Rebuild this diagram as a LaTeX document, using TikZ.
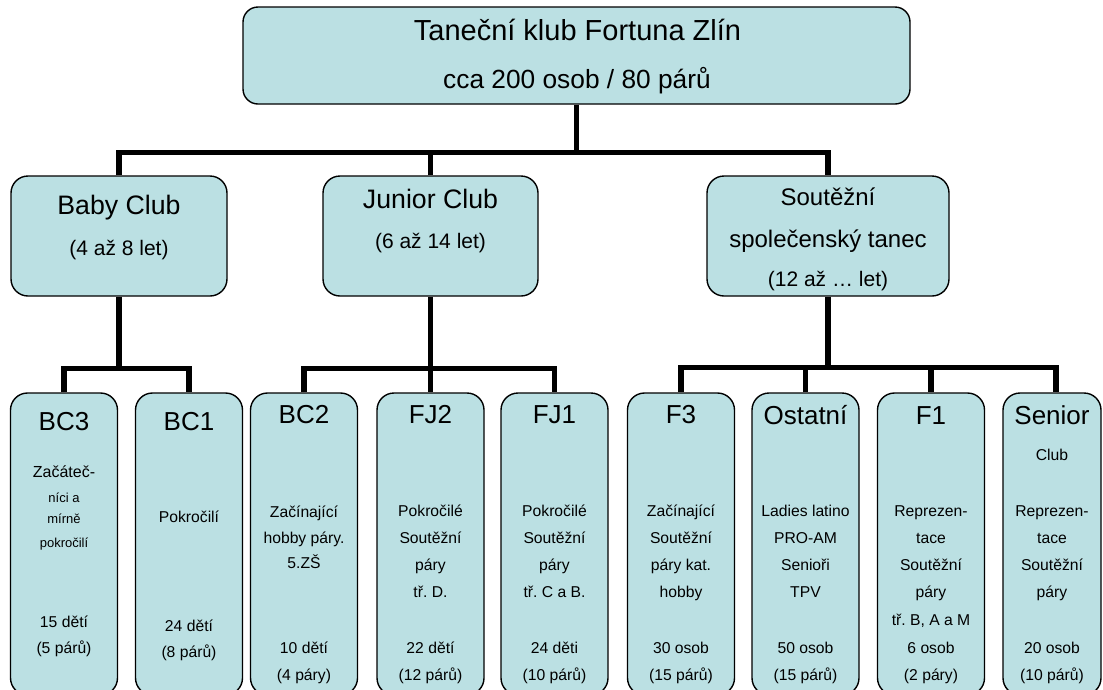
\documentclass[tikz,border=0pt]{standalone}
\usepackage{fontspec}
\setmainfont{Liberation Sans}
\frenchspacing
\definecolor{unitfill}{HTML}{BBE0E3}
\tikzset{
  unit/.style={draw, line width=1.4pt, fill=unitfill, rounded corners=17pt, inner sep=0pt},
  leaf/.style={unit, minimum width=107pt, minimum height=302pt},
  link/.style={line width=5.5pt},
  head/.style={anchor=base, font=\fontsize{26}{30}\selectfont},
  age/.style={anchor=base, font=\fontsize{21}{25}\selectfont},
  txt/.style={anchor=base, font=\fontsize{15.7}{18}\selectfont},
  small/.style={anchor=base, font=\fontsize{13}{15}\selectfont},
}
\begin{document}
\begin{tikzpicture}[x=1pt,y=-1pt]
\useasboundingbox (0,0) rectangle (1103,689);
% club
\node[unit, rounded corners=15pt, minimum width=667pt, minimum height=97pt] (club) at (576.5,55.5) {};
\node[anchor=base, font=\fontsize{29}{34}\selectfont] (clubname) at (577.5,40) {Taneční klub Fortuna Zlín};
\node[anchor=base, font=\fontsize{26.3}{30}\selectfont] (clubsize) at (577,88) {cca 200 osob / 80 párů};

% sections
\node[unit, minimum width=216pt, minimum height=120pt] (baby) at (119,236) {};
\node[head, font=\fontsize{26.7}{30}\selectfont] (babyname) at (119,214) {Baby Club};
\node[age] (babyage) at (119,255) {(4 až 8 let)};
\node[unit, minimum width=215pt, minimum height=120pt] (junior) at (430.5,236) {};
\node[head, font=\fontsize{26.7}{30}\selectfont] (juniorname) at (430.5,208) {Junior Club};
\node[age] (juniorage) at (430.5,248) {(6 až 14 let)};
\node[unit, minimum width=242pt, minimum height=120pt] (sport) at (828,236) {};
\node[head, font=\fontsize{24}{28}\selectfont] (sportname) at (828,205) {Soutěžní};
\node[head, font=\fontsize{24}{28}\selectfont] (sportkind) at (828,247) {společenský tanec};
\node[age] (sportage) at (828,286) {(12 až … let)};

% groups
\node[leaf] (bc3) at (64,544) {};
\node[leaf] (bc1) at (189,544) {};
\node[leaf] (bc2) at (304,544) {};
\node[leaf] (fj2) at (430.5,544) {};
\node[leaf] (fj1) at (554.5,544) {};
\node[leaf] (f3) at (681,544) {};
\node[leaf] (ostatni) at (805.5,544) {};
\node[leaf] (f1) at (931,544) {};
\node[leaf, minimum width=98pt] (senior) at (1052,544) {};

\node[head] (bc3name) at (64,430) {BC3};
\node[txt, font=\fontsize{16}{18}\selectfont] (bc3-0) at (64,477) {Začáteč-};
\foreach \y/\t [count=\i] in {502/{níci a},523/{mírně},547/{pokročilí}}
  \node[small] (bc3-\i) at (64,\y) {\t};
\foreach \y/\t [count=\i] in {627/{15 dětí},653/{(5 párů)}}
  \node[txt] (bc3-n\i) at (64,\y) {\t};

\node[head] (bc1name) at (189,430) {BC1};
\foreach \y/\t [count=\i] in {522/{Pokročilí},631/{24 dětí},657/{(8 párů)}}
  \node[txt] (bc1-\i) at (189,\y) {\t};

\node[head] (bc2name) at (304,423) {BC2};
\foreach \y/\t [count=\i] in {517/{Začínající},543/{hobby páry.},568/{5.ZŠ},653/{10 dětí},680/{(4 páry)}}
  \node[txt] (bc2-\i) at (304,\y) {\t};

\node[head] (fj2name) at (430.5,423) {FJ2};
\foreach \y/\t [count=\i] in {516/{Pokročilé},543/{Soutěžní},570/{páry},597/{tř. D.},653/{22 dětí},680/{(12 párů)}}
  \node[txt] (fj2-\i) at (430.5,\y) {\t};

\node[head] (fj1name) at (554.5,423) {FJ1};
\foreach \y/\t [count=\i] in {516/{Pokročilé},543/{Soutěžní},570/{páry},597/{tř. C a B.},653/{24 děti},680/{(10 párů)}}
  \node[txt] (fj1-\i) at (554.5,\y) {\t};

\node[head] (f3name) at (681,423) {F3};
\foreach \y/\t [count=\i] in {516/{Začínající},543/{Soutěžní},570/{páry kat.},597/{hobby},653/{30 osob},680/{(15 párů)}}
  \node[txt] (f3-\i) at (681,\y) {\t};

\node[head] (ostatniname) at (805.5,424) {Ostatní};
\foreach \y/\t [count=\i] in {516/{Ladies latino},543/{PRO-AM},570/{Senioři},597/{TPV},653/{50 osob},680/{(15 párů)}}
  \node[txt] (ostatni-\i) at (805.5,\y) {\t};

\node[head] (f1name) at (931,424) {F1};
\foreach \y/\t [count=\i] in {516/{Reprezen-},543/{tace},570/{Soutěžní},597/{páry},625/{tř. B, A a M},653/{6 osob},680/{(2 páry)}}
  \node[txt] (f1-\i) at (931,\y) {\t};

\node[head] (seniorname) at (1052,424) {Senior};
\foreach \y/\t [count=\i] in {460/{Club},516/{Reprezen-},543/{tace},570/{Soutěžní},597/{páry},653/{20 osob},680/{(10 párů)}}
  \node[txt] (senior-\i) at (1052,\y) {\t};

% links
\draw[link] (club.south) -- ++(0,48) coordinate (hub);
\draw[link] (baby.north) |- (hub) -| (sport.north);
\draw[link] (junior.north) -- (junior.north |- hub);

\draw[link] (baby.south) -- ++(0,72) coordinate (babyhub);
\draw[link] (bc3.north) |- (babyhub) -| (bc1.north);

\draw[link] (junior.south) -- (junior.south |- fj2.north);
\path (junior.south) ++(0,72) coordinate (juniorhub);
\draw[link] (bc2.north) |- (juniorhub) -| (fj1.north);

\draw[link] (sport.south) -- ++(0,71) coordinate (sporthub);
\draw[link] (f3.north) |- (sporthub) -| ([xshift=4pt]senior.north);
\draw[link] (ostatni.north) -- (ostatni.north |- sporthub);
\draw[link] (f1.north) -- (f1.north |- sporthub);
\end{tikzpicture}
\end{document}
